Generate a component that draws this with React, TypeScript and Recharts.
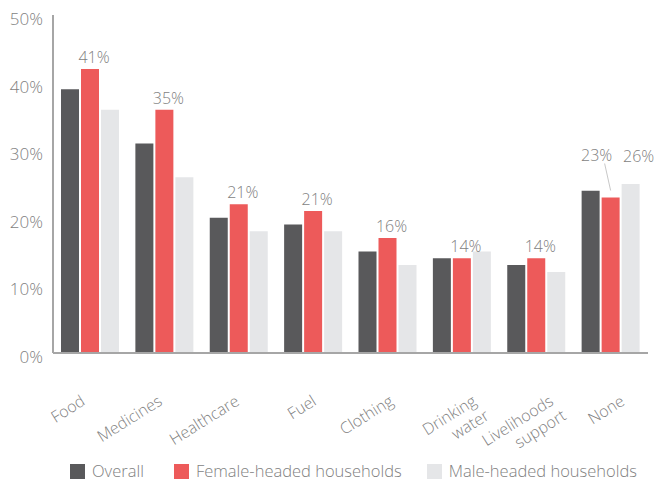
import { Bar, BarChart, LabelList, Legend, XAxis, YAxis } from "recharts";

const categories = [
  "Food",
  "Medicines",
  "Healthcare",
  "Fuel",
  "Clothing",
  "Drinking\nwater",
  "Livelihoods\nsupport",
  "None",
];
const overall = [39, 31, 20, 19, 15, 14, 13, 24];
const female = [42, 36, 22, 21, 17, 14, 14, 23];
const male = [36, 26, 18, 18, 13, 15, 12, 25];
const femaleLabels = ["41%", "35%", "21%", "21%", "16%", "14%", "14%", "23%"];
const maleLabels = ["", "", "", "", "", "", "", "26%"];
const yTicks = [0, 10, 20, 30, 40, 50];

const series = [
  { key: "overall", name: "Overall", color: "#59595b" },
  { key: "female", name: "Female-headed households", color: "#ed5a5a" },
  { key: "male", name: "Male-headed households", color: "#e5e6e8" },
];

const data = categories.map((name, i) => ({
  name,
  overall: overall[i],
  female: female[i],
  male: male[i],
}));

const FONT = '"Open Sans", "Segoe UI", sans-serif';
const GREY = "#7f7f7f";
const AXIS = "#a6a6a6";

function CategoryTick({ x, y, payload, index }: any) {
  const lines = String(payload.value).split("\n");
  // labels drift slightly right across the axis, like the source
  const dx = -4 + 2.7 * index + (lines.length - 1) * 6;
  return (
    <g transform={`translate(${x + dx},${y + 43})`}>
      <text
        transform="rotate(-32)"
        textAnchor="end"
        fill={GREY}
        fontSize={16}
        fontFamily={FONT}
        fontWeight={300}
      >
        {lines.map((l, i) => (
          <tspan key={i} x={i === 0 ? 0 : 3} dy={i === 0 ? 0 : 19}>
            {l}
          </tspan>
        ))}
      </text>
    </g>
  );
}

function FemaleLabel({ x, y, width, index }: any) {
  const text = femaleLabels[index];
  if (!text) return null;
  const cx = x + width / 2;
  if (index === categories.length - 1) {
    return (
      <g>
        <line x1={cx - 6} y1={y - 34} x2={cx} y2={y - 7} stroke="#c8c8c8" strokeWidth={1} />
        <text x={cx - 14} y={y - 37} textAnchor="middle" fill={GREY} fontSize={16} fontFamily={FONT} fontWeight={300}>
          {text}
        </text>
      </g>
    );
  }
  return (
    <text x={cx + 4} y={y - 6} textAnchor="middle" fill={GREY} fontSize={16} fontFamily={FONT} fontWeight={300}>
      {text}
    </text>
  );
}

function MaleLabel({ x, y, width, index }: any) {
  const text = maleLabels[index];
  if (!text) return null;
  return (
    <text x={x + width / 2 + 8} y={y - 22} textAnchor="middle" fill={GREY} fontSize={16} fontFamily={FONT} fontWeight={300}>
      {text}
    </text>
  );
}

function LegendContent() {
  return (
    <div
      style={{
        position: "relative",
        top: 4,
        display: "flex",
        alignItems: "center",
        height: 20,
        lineHeight: "18px",
        paddingLeft: 70,
        fontFamily: FONT,
        fontWeight: 300,
        fontSize: 16.5,
        color: GREY,
        whiteSpace: "nowrap",
      }}
    >
      {series.map((s, i) => (
        <div key={s.key} style={{ display: "flex", alignItems: "center", marginRight: i === 0 ? 30 : 25 }}>
          <span style={{ width: 15, height: 15, background: s.color, marginRight: 7 }} />
          <span>{s.name}</span>
        </div>
      ))}
    </div>
  );
}

export default function App() {
  return (
    <div style={{ position: "absolute", left: 0, top: 0, width: 659, height: 483, background: "#fff", overflow: "hidden" }}>
      <BarChart
        width={659}
        height={483}
        data={data}
        margin={{ top: 15, right: 11, left: 0, bottom: 0 }}
        barSize={18}
        barGap={2}
      >
        <YAxis
          domain={[0, 50]}
          ticks={yTicks}
          tickFormatter={(v) => `${v}%`}
          width={53}
          axisLine={{ stroke: AXIS, strokeWidth: 2 }}
          tickLine={false}
          tickMargin={4}
          tick={{ fill: GREY, fontSize: 17, fontFamily: FONT, fontWeight: 300, dy: 4 }}
        />
        <XAxis
          dataKey="name"
          height={104}
          interval={0}
          axisLine={{ stroke: AXIS, strokeWidth: 2 }}
          tickLine={false}
          tick={<CategoryTick />}
        />
        <Legend
          verticalAlign="bottom"
          content={<LegendContent />}
          wrapperStyle={{ left: 0, width: 659, height: 26 }}
        />
        {series.map((s) => (
          <Bar key={s.key} dataKey={s.key} name={s.name} fill={s.color} isAnimationActive={false}>
            {s.key === "female" && <LabelList dataKey="female" content={<FemaleLabel />} />}
            {s.key === "male" && <LabelList dataKey="male" content={<MaleLabel />} />}
          </Bar>
        ))}
      </BarChart>
    </div>
  );
}
